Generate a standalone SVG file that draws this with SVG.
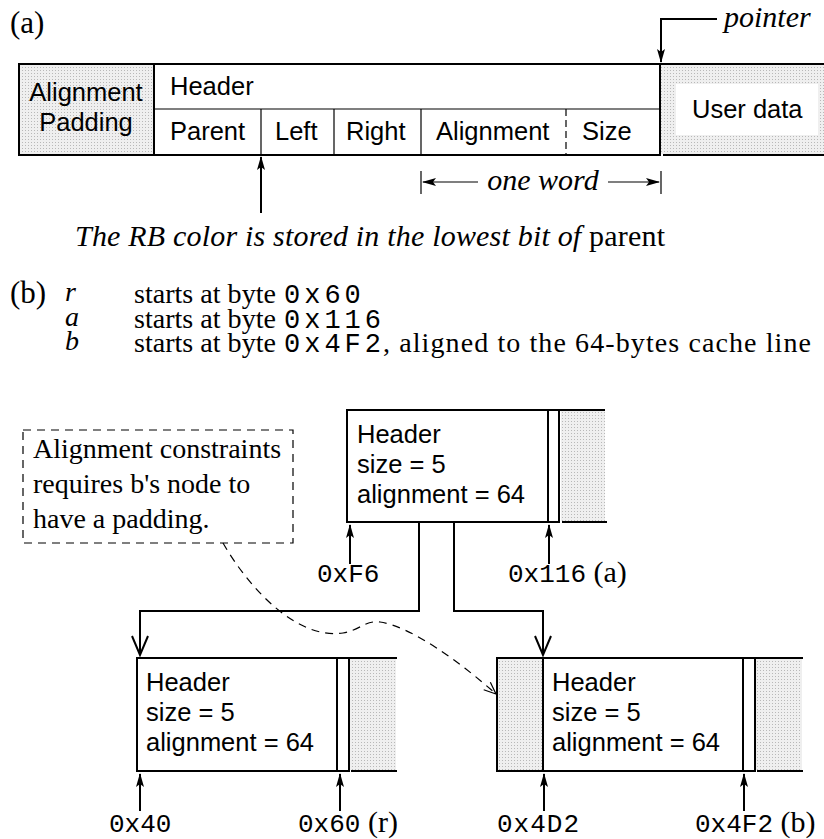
<svg xmlns="http://www.w3.org/2000/svg" width="824" height="839" viewBox="0 0 824 839">
  <defs>
    <!-- light dotted screen used for padding / user data areas -->
    <pattern id="dots" width="3" height="3" patternUnits="userSpaceOnUse">
      <rect width="3" height="3" fill="#efefef"/>
      <rect x="1" y="1" width="1" height="1" fill="#b8b8b8"/>
    </pattern>
    <marker id="tip" viewBox="0 0 14 8" refX="13" refY="4" markerWidth="14" markerHeight="8" markerUnits="userSpaceOnUse" orient="auto">
      <path d="M0,0 L14,4 L0,8 L3,4 Z" fill="#000"/>
    </marker>
    <marker id="vee" viewBox="0 0 22 18" refX="20" refY="9" markerWidth="22" markerHeight="18" markerUnits="userSpaceOnUse" orient="auto">
      <path d="M1,1 L20,9 L1,17" fill="none" stroke="#000" stroke-width="2"/>
    </marker>
    <marker id="vee-thin" viewBox="0 0 14 12" refX="13" refY="6" markerWidth="14" markerHeight="12" markerUnits="userSpaceOnUse" orient="auto">
      <path d="M1,1 L13,6 L1,11" fill="none" stroke="#000" stroke-width="1.2"/>
    </marker>
  </defs>
  <style>
    .sans { font-family: "Liberation Sans", Arial, sans-serif; font-size: 25.5px; fill: #000; }
    .serif { font-family: "Liberation Serif", "Times New Roman", serif; font-size: 30px; fill: #000; }
    .list { font-size: 28px; }
    .it { font-style: italic; }
    .mono { font-family: "Liberation Mono", "Courier New", monospace; font-size: 26px; fill: #000; }
    .code { font-size: 27px; letter-spacing: 4px; }
    .thick { stroke: #000; stroke-width: 2; fill: none; }
    .thin { stroke: #000; stroke-width: 1.2; fill: none; }
    .dash { stroke: #000; stroke-width: 1.2; fill: none; stroke-dasharray: 8 6; }
    .shade { fill: url(#dots); }
    .wire { stroke: #000; stroke-width: 2; fill: none; }
    .ptr { stroke: #000; stroke-width: 2; fill: none; marker-end: url(#tip); }
  </style>

  <rect width="824" height="839" fill="#fff"/>

  <!-- ===== (a) node layout ===== -->
  <text class="serif" x="10" y="33" style="font-size:31px">(a)</text>

  <g id="alignment-padding">
    <rect class="shade" x="19" y="64" width="135" height="91"/>
    <rect class="thick" x="19" y="64" width="135" height="91"/>
    <text class="sans" x="86" y="101" text-anchor="middle">Alignment</text>
    <text class="sans" x="86" y="131" text-anchor="middle">Padding</text>
  </g>

  <g id="header-fields">
    <rect x="154" y="64" width="506" height="91" fill="#fff"/>
    <line class="thin" x1="154" y1="109" x2="660" y2="109"/>
    <line class="thin" x1="261" y1="109" x2="261" y2="155"/>
    <line class="thin" x1="334" y1="109" x2="334" y2="155"/>
    <line class="thin" x1="421" y1="109" x2="421" y2="155"/>
    <line class="thin" x1="566" y1="109" x2="566" y2="155" stroke-dasharray="7 4"/>
    <rect class="thick" x="154" y="64" width="506" height="91"/>
    <text class="sans" x="170" y="95">Header</text>
    <text class="sans" x="170" y="140">Parent</text>
    <text class="sans" x="275" y="140">Left</text>
    <text class="sans" x="346" y="140">Right</text>
    <text class="sans" x="436" y="140">Alignment</text>
    <text class="sans" x="582" y="140">Size</text>
  </g>

  <g id="user-data">
    <rect class="shade" x="661" y="65" width="163" height="89"/>
    <rect x="676" y="84" width="142" height="51" fill="#fff"/>
    <line class="thick" x1="660" y1="64" x2="824" y2="64"/>
    <line class="thick" x1="663" y1="155" x2="824" y2="155"/>
    <text class="sans" x="692" y="118">User data</text>
  </g>

  <g id="annotations-a">
    <path class="ptr" d="M717,19 H661 V62"/>
    <text class="serif it" x="724" y="27">pointer</text>

    <line class="thin" x1="421" y1="171" x2="421" y2="194"/>
    <line class="thin" x1="661" y1="171" x2="661" y2="194"/>
    <line class="thin" x1="478" y1="182" x2="423" y2="182" marker-end="url(#tip)"/>
    <line class="thin" x1="608" y1="182" x2="659" y2="182" marker-end="url(#tip)"/>
    <text class="serif it" x="543" y="190" text-anchor="middle">one word</text>

    <line class="ptr" x1="261" y1="213" x2="261" y2="157"/>
    <text class="serif" x="75" y="246" textLength="590" lengthAdjust="spacing"><tspan class="it">The RB color is stored in the lowest bit of</tspan> parent</text>
  </g>

  <!-- ===== (b) example ===== -->
  <text class="serif" x="10" y="303" style="font-size:31px">(b)</text>
  <g id="legend">
    <text class="serif list it" x="65" y="301">r</text>
    <text class="serif list it" x="65" y="326">a</text>
    <text class="serif list it" x="65" y="350">b</text>

    <text class="serif list" x="134" y="303" textLength="142" lengthAdjust="spacingAndGlyphs">starts at byte</text>
    <text class="mono code" x="284" y="303">0x60</text>

    <text class="serif list" x="134" y="328" textLength="142" lengthAdjust="spacingAndGlyphs">starts at byte</text>
    <text class="mono code" x="284" y="328">0x116</text>

    <text class="serif list" x="134" y="352" textLength="142" lengthAdjust="spacingAndGlyphs">starts at byte</text>
    <text class="mono code" x="284" y="352">0x4F2</text>
    <text class="serif list" x="383" y="352" textLength="428" lengthAdjust="spacing">, aligned to the 64-bytes cache line</text>
  </g>

  <g id="note">
    <rect class="dash" x="23" y="430" width="270" height="113"/>
    <text class="serif" x="33" y="458" style="font-size:28px">Alignment constraints</text>
    <text class="serif" x="33" y="493" style="font-size:28px">requires b's node to</text>
    <text class="serif" x="33" y="528" style="font-size:28px">have a padding.</text>
  </g>

  <g id="node-a">
    <rect class="shade" x="561" y="411" width="44" height="110"/>
    <line class="thick" x1="559" y1="410" x2="605" y2="410"/>
    <line class="thick" x1="562" y1="522" x2="607" y2="522"/>
    <rect class="thick" x="347" y="410" width="212" height="112" fill="#fff"/>
    <line class="thick" x1="548" y1="410" x2="548" y2="522"/>
    <text class="sans" x="357" y="443">Header</text>
    <text class="sans" x="357" y="473">size = 5</text>
    <text class="sans" x="357" y="503">alignment = 64</text>
    <line class="ptr" x1="350" y1="564" x2="350" y2="525"/>
    <line class="ptr" x1="549" y1="564" x2="549" y2="525"/>
    <text class="mono" x="317" y="582">0xF6</text>
    <text class="serif" x="508" y="582"><tspan class="mono">0x116</tspan> (a)</text>
  </g>

  <g id="node-r">
    <rect class="shade" x="350" y="659" width="46" height="111"/>
    <line class="thick" x1="349" y1="658" x2="397" y2="658"/>
    <line class="thick" x1="351" y1="771" x2="397" y2="771"/>
    <rect class="thick" x="137" y="658" width="212" height="113" fill="#fff"/>
    <line class="thick" x1="337" y1="658" x2="337" y2="771"/>
    <text class="sans" x="146" y="691">Header</text>
    <text class="sans" x="146" y="721">size = 5</text>
    <text class="sans" x="146" y="751">alignment = 64</text>
    <line class="ptr" x1="140" y1="811" x2="140" y2="774"/>
    <line class="ptr" x1="340" y1="811" x2="340" y2="774"/>
    <text class="mono" x="109" y="832">0x40</text>
    <text class="serif" x="298" y="832"><tspan class="mono">0x60</tspan> (r)</text>
  </g>

  <g id="node-b">
    <rect class="shade" x="497" y="658" width="46" height="113"/>
    <rect class="thick" x="497" y="658" width="46" height="113"/>
    <rect class="shade" x="756" y="659" width="46" height="111"/>
    <line class="thick" x1="755" y1="658" x2="803" y2="658"/>
    <line class="thick" x1="757" y1="771" x2="803" y2="771"/>
    <rect class="thick" x="543" y="658" width="212" height="113" fill="#fff"/>
    <line class="thick" x1="743" y1="658" x2="743" y2="771"/>
    <text class="sans" x="552" y="691">Header</text>
    <text class="sans" x="552" y="721">size = 5</text>
    <text class="sans" x="552" y="751">alignment = 64</text>
    <line class="ptr" x1="544" y1="811" x2="544" y2="774"/>
    <line class="ptr" x1="744" y1="811" x2="744" y2="774"/>
    <text class="mono" x="497" y="832" style="letter-spacing:1px">0x4D2</text>
    <text class="serif" x="695" y="832"><tspan class="mono">0x4F2</tspan> (b)</text>
  </g>

  <g id="connectors">
    <path class="wire" d="M419,523 V611 H140 V655" marker-end="url(#vee)"/>
    <path class="wire" d="M454,523 V611 H543 V655" marker-end="url(#vee)"/>
    <path class="dash" d="M223,543 C250,590 298,640 343,633 C360,630 366,620 380,622 C412,627 460,662 496,694" marker-end="url(#vee-thin)"/>
  </g>
</svg>
